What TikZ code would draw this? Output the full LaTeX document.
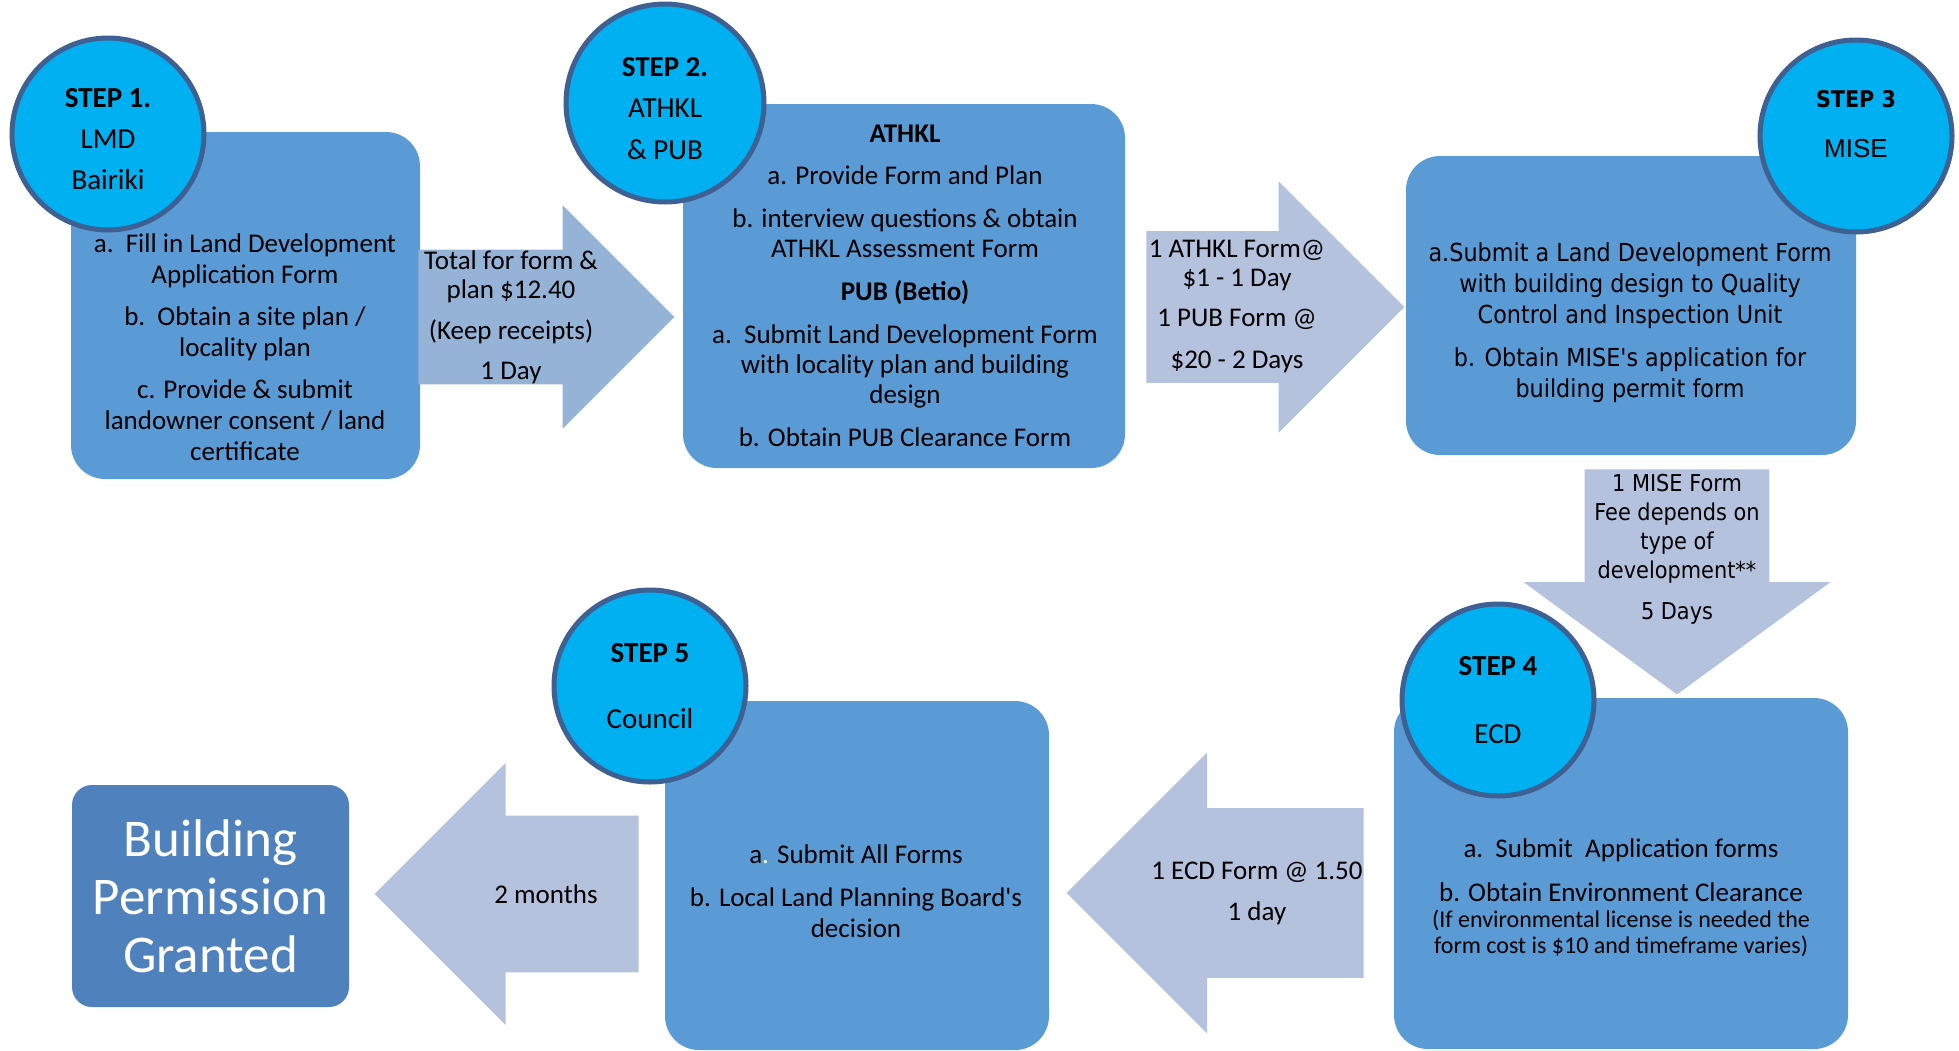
\documentclass[tikz,border=0pt]{standalone}
\usepackage{fontspec}
\setmainfont{Carlito}[Ligatures=TeXOff]
\newfontfamily\verdana[FakeStretch=0.9]{DejaVu Sans}
\newfontfamily\arial{Liberation Sans}
\usetikzlibrary{shapes.arrows}

\definecolor{boxblue}{RGB}{91,155,213}
\definecolor{stepfill}{RGB}{0,176,240}
\definecolor{stepline}{RGB}{62,96,146}
\definecolor{arrowone}{RGB}{149,179,215}
\definecolor{arrowgrey}{RGB}{180,194,222}
\definecolor{finalblue}{RGB}{79,129,189}

\tikzset{
  stepbox/.style={rectangle, rounded corners=17pt, fill=boxblue},
  stepcircle/.style={circle, fill=stepfill, draw=stepline, line width=2.5pt,
    minimum size=96pt, inner sep=0pt},
  steptext/.style={align=center, font=\fontsize{14.5}{20.5}\selectfont},
  blockarrow/.style={single arrow, fill=arrowgrey, anchor=tail, inner xsep=0pt,
    text height=0pt, text depth=0pt, single arrow head extend=#1},
  boxtext/.style={align=center, font=\fontsize{13.5}{15.5}\selectfont},
  arrowtext/.style={align=center, font=\fontsize{13.5}{14.5}\selectfont},
}

\begin{document}
\begin{tikzpicture}[x=0.5pt, y=-0.5pt]
  \useasboundingbox (0,0) rectangle (1959,1050);

  % boxes
  \node [stepbox, minimum width=174.5pt, minimum height=173.5pt] (box1) at (245.5,305.5) {};
  \node [stepbox, minimum width=221pt,   minimum height=182pt]   (box2) at (904,286) {};
  \node [stepbox, minimum width=225pt,   minimum height=149.5pt] (box3) at (1631,305.5) {};
  \node [stepbox, minimum width=227pt,   minimum height=175.5pt] (box4) at (1621,873.5) {};
  \node [stepbox, minimum width=192pt,   minimum height=174.5pt] (box5) at (857,875.5) {};
  \node [rectangle, rounded corners=10pt, fill=finalblue, text=white, align=center,
         minimum width=138.5pt, minimum height=111pt,
         font=\fontsize{26.5}{29}\selectfont] (granted) at (210.5,896)
        {Building\\Permission\\Granted};

  % block arrows between the steps
  \node [blockarrow=22.25pt, fill=arrowone, inner ysep=33.5pt, minimum height=128pt,
         minimum width=111.5pt] (arr12) at (418,317) {};
  \node [blockarrow=25pt, inner ysep=37.75pt, minimum height=129pt,
         minimum width=125.5pt] (arr23) at (1146,307) {};
  \node [blockarrow=30.5pt, inner ysep=46pt, minimum height=112.5pt,
         minimum width=153pt, single arrow tip angle=107.6, rotate=-90] (arr34) at (1677,469) {};
  \node [blockarrow=27.75pt, inner ysep=42.25pt, minimum height=148.5pt,
         minimum width=140pt, rotate=180] (arr45) at (1364,893) {};
  \node [blockarrow=26.25pt, inner ysep=39pt, minimum height=132pt,
         minimum width=130.5pt, rotate=180] (arr5g) at (639,894) {};

  % step circles
  \node [stepcircle] (step1) at (108,134) {};
  \node [stepcircle, minimum size=99pt] (step2) at (665,103) {};
  \node [stepcircle] (step3) at (1856,136) {};
  \node [stepcircle] (step4) at (1498,700) {};
  \node [stepcircle] (step5) at (650,686) {};

  \node [steptext] (step1txt) at (108,139) {\textbf{STEP 1.}\\LMD\\Bairiki};
  \node [steptext, font=\fontsize{14.5}{20.75}\selectfont] (step2txt) at (665,108.5)
        {\textbf{STEP 2.}\\ATHKL\\\&~PUB};
  \node [steptext, font=\fontsize{13}{25}\selectfont] (step3txt) at (1856,124.5)
        {\verdana\fontsize{11.5}{25}\selectfont\textbf{STEP 3}\\\arial MISE};
  \node [steptext, font=\fontsize{14.5}{34}\selectfont] (step4txt) at (1498,700)
        {\textbf{STEP 4}\\ECD};
  \node [steptext, font=\fontsize{14.5}{33}\selectfont] (step5txt) at (650,686)
        {\textbf{STEP 5}\\Council};

  % texts of the boxes
  \node [boxtext] (txt1) at (245,347)
        {a.\ \ Fill in Land Development\\Application Form\\[5.5pt]
         b.\ \ Obtain a site plan /\\locality plan\\[5.5pt]
         c. Provide \& submit\\landowner consent / land\\certificate};
  \node [boxtext, font=\fontsize{13.5}{15}\selectfont] (txt2) at (905,285.5)
        {\textbf{ATHKL}\\[6pt]
         a. Provide Form and Plan\\[6.5pt]
         b. interview questions \& obtain\\ATHKL Assessment Form\\[6.5pt]
         \textbf{PUB (Betio)}\\[6.5pt]
         a.\ \ Submit Land Development Form\\with locality plan and building\\design\\[6.5pt]
         b. Obtain PUB Clearance Form};
  \node [boxtext, font=\verdana\fontsize{12.4}{15.5}\selectfont] (txt3) at (1630,322.5)
        {a.Submit a Land Development Form\\with building design to Quality\\Control and Inspection Unit\\[6pt]
         b. Obtain MISE's application for\\building permit form};
  \node [boxtext] (txt4) at (1621,870)
        {a.\ \ Submit\ \ Application forms\\[6.5pt]b. Obtain Environment Clearance};
  \node [boxtext, font=\fontsize{12}{13}\selectfont] (note4) at (1621,933)
        {(If environmental license is needed the\\form cost is \$10 and timeframe varies)};
  \node [boxtext] (txt5) at (856,891.5)
        {a{\color{white}.} Submit All Forms\\[6pt]b. Local Land Planning Board's\\decision};

  % texts of the arrows
  \node [arrowtext] (fee12) at (511,317)
        {Total for form \&\\plan \$12.40\\[6pt](Keep receipts)\\[5.5pt]1 Day};
  \node [arrowtext] (fee23) at (1237,306)
        {1 ATHKL Form@\\\$1 - 1 Day\\[5.5pt]1 PUB Form @\\[6.5pt]\$20 - 2 Days};
  \node [arrowtext, font=\verdana\fontsize{11.6}{14.5}\selectfont] (fee34) at (1677,549.5)
        {1 MISE Form\\Fee depends on\\type of\\development**\\[6pt]5 Days};
  \node [arrowtext] (fee45) at (1257,893.5)
        {1 ECD Form @ 1.50\\[6pt]1 day};
  \node [arrowtext] (fee5g) at (546,894) {2 months};
\end{tikzpicture}
\end{document}
